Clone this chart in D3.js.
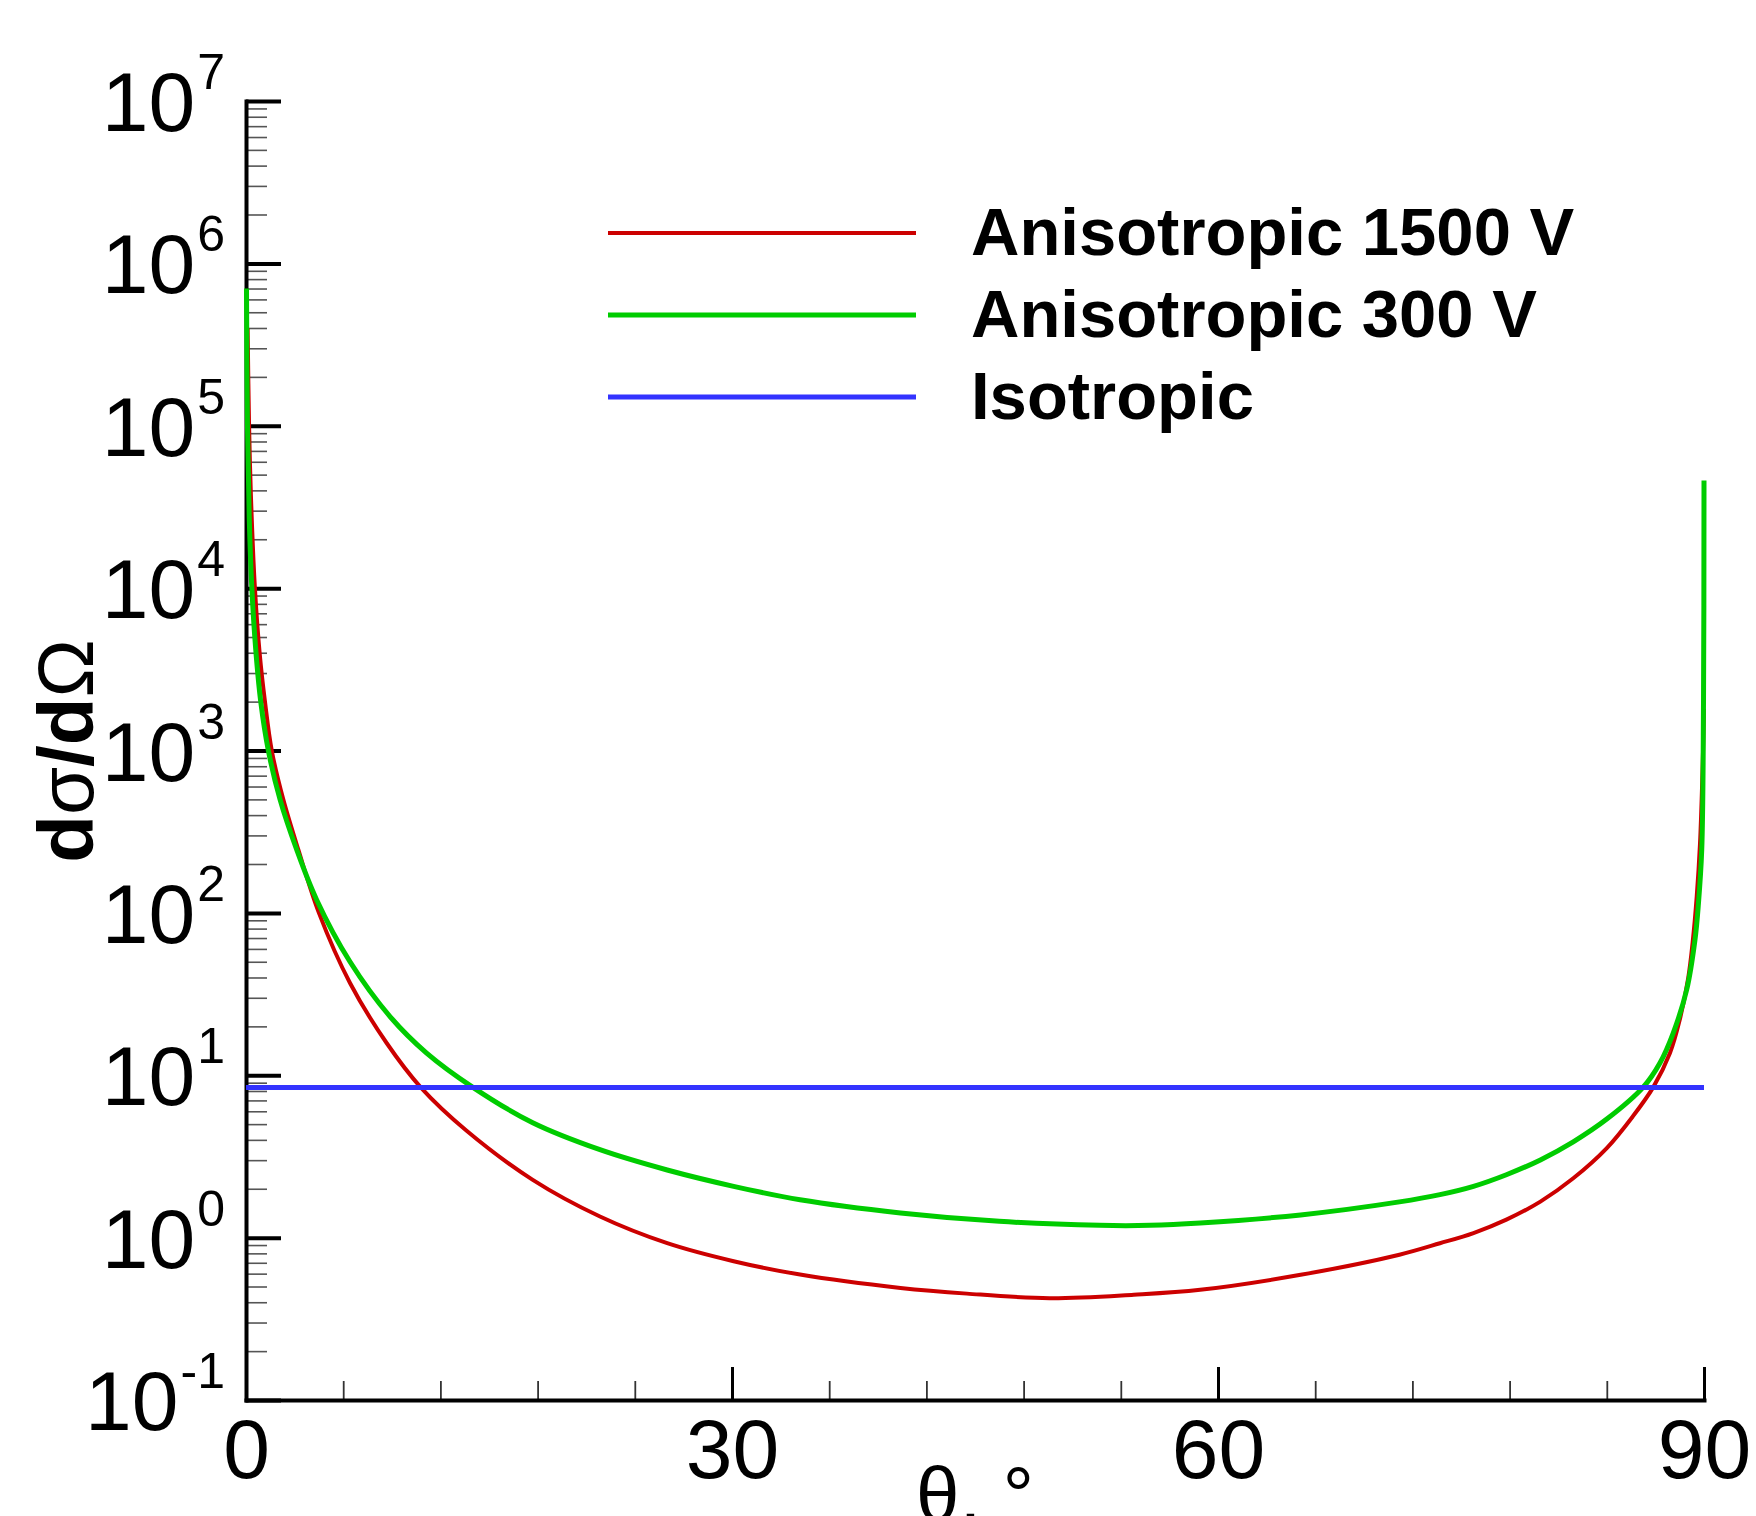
<!DOCTYPE html>
<html><head><meta charset="utf-8">
<script src="https://cdn.jsdelivr.net/npm/d3@7"></script>
<style>
body{margin:0;background:#fff}
svg{display:block;background:#fff}
text{font-family:"Liberation Sans",Arial,Helvetica,sans-serif;fill:#000}
</style>
</head><body>
<svg id="chart" width="1756" height="1516"></svg>
<script>
// ---- data ----
const thetaRed = [0.1, 0.19, 0.3, 0.55, 0.85, 1.17, 1.59, 2.3, 3.23, 4.5, 6.42, 8.68, 10.8, 13.6, 17.7, 21.85, 26, 30.1, 34.2, 40.4, 44.5, 49.6, 54.8, 58.9, 65.1, 71.2, 73.7, 75.77, 77.8, 79.9, 81.93, 84.0, 85.6, 86.87, 87.9, 88.5, 89.03, 89.3, 89.55, 89.75, 89.9, 90];
const valueRed = [4.0e5, 1.0e5, 3.8e4, 1.0e4, 3.9e3, 2.0e3, 1.0e3, 5.0e2, 2.45e2, 1.0e2, 37, 15.8, 8.4, 4.57, 2.27, 1.35, 0.925, 0.716, 0.592, 0.49, 0.452, 0.424, 0.445, 0.477, 0.59, 0.785, 0.923, 1.067, 1.29, 1.667, 2.32, 3.56, 5.57, 8.45, 13.7, 21.9, 40, 66, 126, 263, 700, 1800];

const thetaGreen = [0.03, 0.09, 0.2, 0.36, 0.6, 0.91, 1.38, 2.1, 3.13, 4.35, 6.42, 8.89, 11.15, 14.03, 17.7, 21.85, 26, 30.1, 34.2, 40.4, 46.5, 52.7, 55.8, 58.9, 65.1, 71.2, 73.7, 75.77, 77.8, 79.9, 81.93, 84.0, 86.25, 87.28, 88.1, 88.93, 89.44, 89.65, 89.86, 89.97, 90];
const valueGreen = [7.0e5, 1.0e5, 2.7e4, 1.0e4, 4.2e3, 2.0e3, 1.0e3, 5.0e2, 2.45e2, 1.21e2, 50, 23, 13.7, 8.4, 5.1, 3.48, 2.61, 2.07, 1.71, 1.42, 1.26, 1.19, 1.19, 1.23, 1.38, 1.66, 1.84, 2.07, 2.44, 3.01, 3.89, 5.37, 8.45, 11.9, 18.2, 33.6, 68, 112, 245, 2000, 4.6e4];

const thetaBlue = [0, 90];
const valueBlue = [8.4, 8.4];

const seriesNames = ["Anisotropic 1500 V", "Anisotropic 300 V", "Isotropic"];
const seriesColors = ["#cc0000", "#00cc00", "#3333ff"];
const seriesWidths = [4, 5, 5];

const xTickValues = [0, 30, 60, 90];
const xMinorTickValues = [6, 12, 18, 24, 36, 42, 48, 54, 66, 72, 78, 84];
const yTickExponents = [-1, 0, 1, 2, 3, 4, 5, 6, 7];
const xTitle = "θ, °";

// ---- layout ----
const svg = d3.select("#chart");
const x = d3.scaleLinear().domain([0, 90]).range([246, 1704]);
const y = d3.scaleLog().domain([0.1, 1e7]).range([1400, 101]);

const yMajor = yTickExponents.map(e => Math.pow(10, e));
const yMinor = [];
yTickExponents.slice(0, -1).forEach(e => { for (let m = 2; m <= 9; m++) yMinor.push(m * Math.pow(10, e)); });

// y minor ticks
const gyMin = svg.append("g").attr("transform", `translate(${x(0)},0)`)
  .call(d3.axisRight(y).tickValues(yMinor).tickSize(21).tickSizeOuter(0).tickFormat(""));
gyMin.select(".domain").remove();
gyMin.selectAll(".tick line").attr("stroke", "#555").attr("stroke-width", 1.6);

// x minor ticks
const gxMin = svg.append("g").attr("transform", `translate(0,${y(0.1)})`)
  .call(d3.axisBottom(x).tickValues(xMinorTickValues).tickSize(-19).tickSizeOuter(0).tickFormat(""));
gxMin.select(".domain").remove();
gxMin.selectAll(".tick line").attr("stroke", "#333").attr("stroke-width", 1.8);

// y major axis
const gy = svg.append("g").attr("transform", `translate(${x(0)},0)`)
  .call(d3.axisRight(y).tickValues(yMajor).tickSize(35).tickSizeOuter(0).tickFormat(""));
gy.select(".domain").attr("stroke", "#000").attr("stroke-width", 4).attr("stroke-linecap", "square");
gy.selectAll(".tick line").attr("stroke", "#000").attr("stroke-width", 4);

// x major axis
const gx = svg.append("g").attr("transform", `translate(0,${y(0.1)})`)
  .call(d3.axisBottom(x).tickValues(xTickValues).tickSize(-33).tickSizeOuter(0).tickPadding(18).tickFormat(d3.format("d")));
gx.select(".domain").attr("stroke", "#000").attr("stroke-width", 4).attr("stroke-linecap", "square");
gx.selectAll(".tick line").attr("stroke", "#000").attr("stroke-width", 3);
gx.selectAll(".tick text").attr("font-size", 84).attr("font-family", "'Liberation Sans',Arial,sans-serif").attr("fill", "#000");

// y tick labels 10^n
const yl = svg.append("g");
yTickExponents.forEach(e => {
  const t = yl.append("text").attr("x", x(0) - 21).attr("y", y(Math.pow(10, e)) + 30)
    .attr("text-anchor", "end");
  t.append("tspan").attr("font-size", 84).text("10");
  t.append("tspan").attr("font-size", 50).attr("dy", -42).attr("dx", 2).text(String(e));
});

// data lines
const line = d3.line().x(d => x(d[0])).y(d => y(d[1])).curve(d3.curveCatmullRom.alpha(0.5));
const series = [
  d3.zip(thetaRed, valueRed),
  d3.zip(thetaGreen, valueGreen),
  d3.zip(thetaBlue, valueBlue)
];
series.forEach((s, i) => {
  svg.append("path").attr("d", line(s)).attr("fill", "none")
    .attr("stroke", seriesColors[i]).attr("stroke-width", seriesWidths[i])
    .attr("stroke-linejoin", "round");
});

// legend
const legY = [233, 315, 397];
seriesNames.forEach((n, i) => {
  svg.append("line").attr("x1", 608).attr("x2", 916).attr("y1", legY[i]).attr("y2", legY[i])
    .attr("stroke", seriesColors[i]).attr("stroke-width", seriesWidths[i]);
  svg.append("text").attr("x", 971).attr("y", legY[i] + 22).attr("font-size", 67)
    .attr("font-weight", "bold").text(n);
});

// axis titles
const yt = svg.append("text").attr("transform", "translate(93,751) rotate(-90)")
  .attr("text-anchor", "middle").attr("font-size", 78);
yt.append("tspan").attr("font-weight", "bold").text("d");
yt.append("tspan").text("σ");
yt.append("tspan").attr("font-weight", "bold").text("/d");
yt.append("tspan").text("Ω");

svg.append("text").attr("x", 975).attr("y", 1522).attr("text-anchor", "middle")
  .attr("font-size", 78).text(xTitle);
</script>
</body></html>
